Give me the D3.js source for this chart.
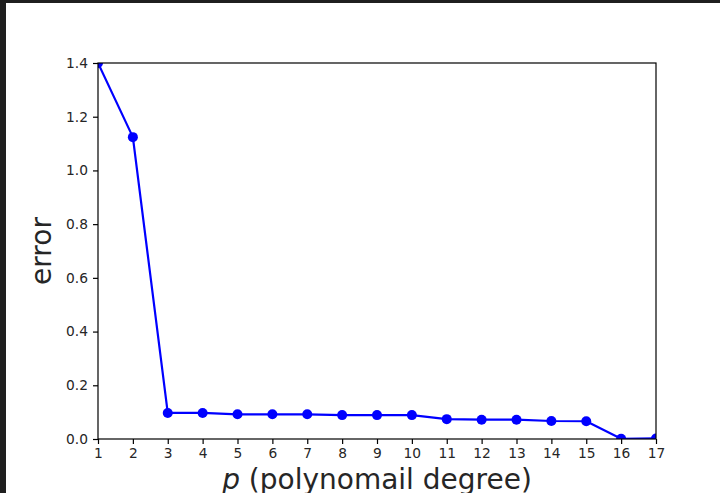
<!DOCTYPE html>
<html>
<head>
<meta charset="utf-8">
<script src="https://cdn.jsdelivr.net/npm/d3@7"></script>
<style>
  html, body { margin: 0; padding: 0; background: #ffffff; }
  svg { display: block; }
  text { font-family: "DejaVu Sans", sans-serif; fill: #262626; }
</style>
</head>
<body>
<svg id="chart" width="720" height="493"></svg>
<script>
// polynomial degree on x, fitting error on y
const degrees = [1, 2, 3, 4, 5, 6, 7, 8, 9, 10, 11, 12, 13, 14, 15, 16, 17];
const errors = [1.40, 1.124, 0.097, 0.097, 0.092, 0.092, 0.092, 0.089, 0.089, 0.089,
                0.074, 0.072, 0.072, 0.067, 0.066, 0.001, 0.002];
const xTickValues = [1, 2, 3, 4, 5, 6, 7, 8, 9, 10, 11, 12, 13, 14, 15, 16, 17];
const yTickValues = [0.0, 0.2, 0.4, 0.6, 0.8, 1.0, 1.2, 1.4];

const svg = d3.select("#chart");

// dark window frame along the top and left edges
svg.append("rect").attr("x", 0).attr("y", 0).attr("width", 720).attr("height", 493).attr("fill", "#ffffff");
svg.append("rect").attr("x", 0).attr("y", 0).attr("width", 720).attr("height", 3).attr("fill", "#1f1f1f");
svg.append("rect").attr("x", 0).attr("y", 0).attr("width", 6).attr("height", 493).attr("fill", "#1f1f1f");

const plot = { left: 98, right: 656, top: 63, bottom: 439 };

const x = d3.scaleLinear().domain([1, 17]).range([plot.left, plot.right]);
const y = d3.scaleLinear().domain([0, 1.4]).range([plot.bottom, plot.top]);

svg.append("defs").append("clipPath").attr("id", "plot-clip")
  .append("rect")
  .attr("x", plot.left).attr("y", plot.top)
  .attr("width", plot.right - plot.left).attr("height", plot.bottom - plot.top);

const pts = degrees.map((d, i) => [d, errors[i]]);

const g = svg.append("g").attr("clip-path", "url(#plot-clip)");

g.append("path")
  .datum(pts)
  .attr("fill", "none")
  .attr("stroke", "#0000ff")
  .attr("stroke-width", 2.2)
  .attr("stroke-linejoin", "round")
  .attr("d", d3.line().x(d => x(d[0])).y(d => y(d[1])));

g.selectAll("circle.pt")
  .data(pts)
  .join("circle")
  .attr("class", "pt")
  .attr("cx", d => x(d[0]))
  .attr("cy", d => y(d[1]))
  .attr("r", 5)
  .attr("fill", "#0000ff");

// frame
svg.append("rect")
  .attr("x", plot.left).attr("y", plot.top)
  .attr("width", plot.right - plot.left).attr("height", plot.bottom - plot.top)
  .attr("fill", "none").attr("stroke", "#000000").attr("stroke-width", 1.2);

// axes
const xAxis = d3.axisBottom(x).tickValues(xTickValues).tickFormat(d3.format("d"))
  .tickSize(5).tickPadding(4);
const yAxis = d3.axisLeft(y).tickValues(yTickValues).tickFormat(d3.format(".1f"))
  .tickSize(5).tickPadding(5);

const gx = svg.append("g").attr("transform", `translate(0,${plot.bottom})`).call(xAxis);
const gy = svg.append("g").attr("transform", `translate(${plot.left},0)`).call(yAxis);

[gx, gy].forEach(a => {
  a.select(".domain").remove();
  a.selectAll(".tick line").attr("stroke", "#000000").attr("stroke-width", 1.2);
  a.selectAll(".tick text")
    .attr("font-family", "DejaVu Sans, sans-serif")
    .attr("font-size", 13.8)
    .attr("fill", "#262626");
});

// axis titles
const xl = svg.append("text")
  .attr("x", (plot.left + plot.right) / 2)
  .attr("y", 489)
  .attr("text-anchor", "middle")
  .attr("font-size", 28);
xl.append("tspan").attr("font-style", "italic").text("p");
xl.append("tspan").text(" (polynomail degree)");

svg.append("text")
  .attr("transform", `translate(51,${(plot.top + plot.bottom) / 2}) rotate(-90)`)
  .attr("text-anchor", "middle")
  .attr("font-size", 28)
  .text("error");
</script>
</body>
</html>
